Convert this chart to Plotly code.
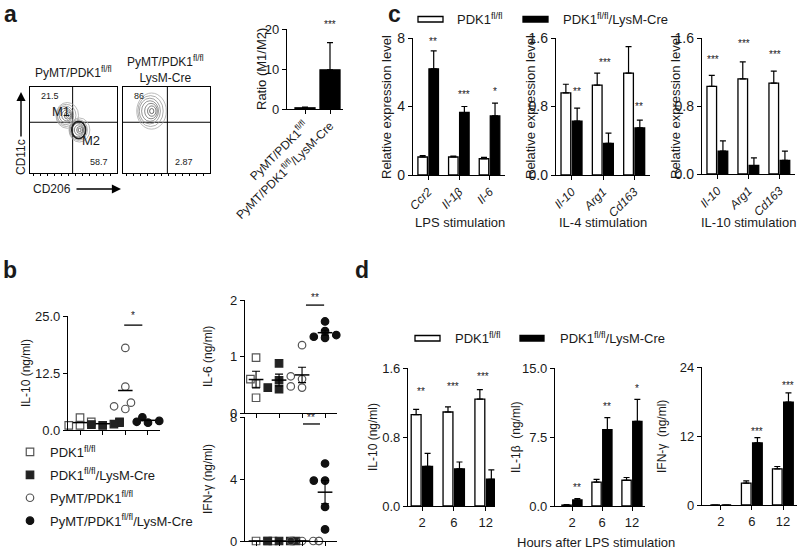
import numpy as np
import plotly.graph_objects as go

W, H = 800, 551
FONT = "Arial, 'Liberation Sans', sans-serif"
INK = "#1a1a1a"

# ====================== DATA ======================
# (a) flow cytometry quadrant percentages
flow_titles = ["PyMT/PDK1<sup>fl/fl</sup>", "PyMT/PDK1<sup>fl/fl</sup><br>LysM-Cre"]
flow_upper_left = ["21.5", "86"]
flow_lower_right = ["58.7", "2.87"]

# (a) M1/M2 ratio
ratio_groups = ["PyMT/PDK1<sup>fl/fl</sup>", "PyMT/PDK1<sup>fl/fl</sup>/LysM-Cre"]
ratio_mean = [0.3, 9.8]
ratio_err = [0.2, 6.8]
ratio_sig = "***"

# (c) relative expression
legend_names = ["PDK1<sup>fl/fl</sup>", "PDK1<sup>fl/fl</sup>/LysM-Cre"]
c_lps_genes = ["<i>Ccr2</i>", "<i>Il-1β</i>", "<i>Il-6</i>"]
c_lps_wt = [1.05, 1.05, 0.95]
c_lps_wt_err = [0.08, 0.05, 0.08]
c_lps_ko = [6.2, 3.65, 3.45]
c_lps_ko_err = [1.05, 0.35, 0.75]
c_lps_sig = ["**", "***", "*"]

c_il4_genes = ["<i>Il-10</i>", "<i>Arg1</i>", "<i>Cd163</i>"]
c_il4_wt = [0.96, 1.05, 1.19]
c_il4_wt_err = [0.10, 0.14, 0.31]
c_il4_ko = [0.63, 0.37, 0.55]
c_il4_ko_err = [0.15, 0.12, 0.09]
c_il4_sig = ["**", "***", "**"]

c_il10_genes = ["<i>Il-10</i>", "<i>Arg1</i>", "<i>Cd163</i>"]
c_il10_wt = [1.03, 1.12, 1.07]
c_il10_wt_err = [0.13, 0.20, 0.14]
c_il10_ko = [0.27, 0.10, 0.16]
c_il10_ko_err = [0.12, 0.09, 0.11]
c_il10_sig = ["***", "***", "***"]

c_stim = ["LPS stimulation", "IL-4 stimulation", "IL-10 stimulation"]

# (b) serum cytokines, individual mice
b_groups = ["PDK1<sup>fl/fl</sup>", "PDK1<sup>fl/fl</sup>/LysM-Cre",
            "PyMT/PDK1<sup>fl/fl</sup>", "PyMT/PDK1<sup>fl/fl</sup>/LysM-Cre"]
b_il10 = [[1.8, 1.0, 2.7, 1.0], [1.2, 1.6, 1.8, 1.3, 1.0],
          [18.0, 9.5, 6.0, 5.2, 4.6], [2.8, 2.4, 2.0, 1.8, 1.6]]
b_il6 = [[0.98, 0.60, 0.52, 0.27], [0.88, 0.58, 0.45, 0.42],
         [1.20, 0.65, 0.60, 0.47, 0.45], [1.62, 1.45, 1.40, 1.35, 1.33, 1.38]]
b_ifn = [[0, 0, 0, 0], [0, 0, 0, 0], [0, 0, 0, 0, 0], [5.0, 3.9, 3.9, 2.2, 0.75]]
b_sig = ["*", "**", "**"]

# (d) time course after LPS
d_hours = ["2", "6", "12"]
d_il10_wt = [1.06, 1.09, 1.24]
d_il10_wt_err = [0.06, 0.06, 0.11]
d_il10_ko = [0.46, 0.43, 0.31]
d_il10_ko_err = [0.15, 0.08, 0.11]
d_il10_sig = ["**", "***", "***"]

d_il1b_wt = [0.10, 2.6, 2.8]
d_il1b_wt_err = [0.05, 0.3, 0.3]
d_il1b_ko = [0.65, 8.3, 9.2]
d_il1b_ko_err = [0.15, 1.3, 2.4]
d_il1b_sig = ["**", "**", "*"]

d_ifn_wt = [0, 3.8, 6.3]
d_ifn_wt_err = [0, 0.4, 0.4]
d_ifn_ko = [0, 10.8, 17.9]
d_ifn_ko_err = [0, 0.9, 1.6]
d_ifn_sig = ["", "***", "***"]

# ====================== LAYOUT GEOMETRY ======================
# pixel boxes: (x0, x1), (ytop, ybottom)
GEOM = {
    1: ((30, 117), (87, 173)),
    2: ((123, 210), (87, 173)),
    3: ((287, 343), (29, 109)),
    4: ((413, 505), (38, 175)),
    5: ((556, 650), (38, 175)),
    6: ((702, 795), (38, 174)),
    7: ((68, 160), (316, 430)),
    8: ((245, 337), (300, 413)),
    9: ((245, 337), (417, 541)),
    10: ((408, 495), (368, 506)),
    11: ((555, 645), (368, 506)),
    12: ((702, 797), (367, 505)),
}


def PX(x):
    return x / W


def PY(y):
    return 1 - y / H


fig = go.Figure()
layout = {}
annotations = []
shapes = []


def sfx(i):
    return "" if i == 1 else str(i)


def add_axes(i, xr, yr, yticks=None, yfmt=None, xticks=None, xtext=None,
             xangle=0, xfont=13, yfont=13, mirror=False, show_ticks=True):
    (x0, x1), (yt, yb) = GEOM[i]
    s = sfx(i)
    base = dict(showgrid=False, zeroline=False, showline=True, linecolor="black",
                linewidth=1.3, tickcolor="black", tickwidth=1.2, ticklen=4,
                ticks="outside" if show_ticks else "", fixedrange=True, automargin=False)
    xa = dict(base, domain=[PX(x0), PX(x1)], range=xr, anchor="y" + s,
              tickfont=dict(size=xfont, color=INK, family=FONT), mirror=mirror)
    if xticks is not None:
        xa.update(tickmode="array", tickvals=xticks,
                  ticktext=xtext if xtext is not None else [""] * len(xticks),
                  tickangle=xangle, showticklabels=xtext is not None)
    else:
        xa.update(showticklabels=False)
    ya = dict(base, domain=[PY(yb), PY(yt)], range=yr, anchor="x" + s,
              tickfont=dict(size=yfont, color=INK, family=FONT), mirror=mirror)
    if yticks is not None:
        ya.update(tickmode="array", tickvals=yticks)
        if yfmt:
            ya.update(tickformat=yfmt)
    else:
        ya.update(showticklabels=False)
    layout["xaxis" + s] = xa
    layout["yaxis" + s] = ya


def text(x, y, t, size=12, angle=0, xanchor="center", yanchor="middle",
         bold=False, ref=("paper", "paper"), yshift=0):
    if bold:
        t = "<b>" + t + "</b>"
    annotations.append(dict(x=x, y=y, xref=ref[0], yref=ref[1], text=t, showarrow=False,
                            textangle=angle, xanchor=xanchor, yanchor=yanchor, yshift=yshift,
                            font=dict(size=size, color=INK, family=FONT)))


def star(i, x, y, t, top, ppu):
    s = sfx(i)
    if y > top:
        text(x, top, t, size=10, ref=("x" + s, "y" + s), yshift=(y - top) * ppu)
    else:
        text(x, y, t, size=10, ref=("x" + s, "y" + s))


def ppu(i, yr):
    (_, _), (yt, yb) = GEOM[i]
    return (yb - yt) / (yr[1] - yr[0])


def bars(i, cats, wt, wt_err, ko, ko_err, width=0.31, off_w=-0.34, off_k=0.02):
    s = sfx(i)
    xs = list(range(len(cats)))
    for vals, errs, col, off in [(wt, wt_err, "white", off_w), (ko, ko_err, "black", off_k)]:
        fig.add_trace(go.Bar(
            x=xs, y=vals, xaxis="x" + s, yaxis="y" + s, width=width, offset=off,
            marker=dict(color=col, line=dict(color="black", width=1.3)),
            error_y=dict(type="data", array=errs, arrayminus=[0] * len(errs), symmetric=False,
                         color="black", thickness=1.2, width=3),
            showlegend=False, hoverinfo="skip"))


# ====================== PANEL a ======================
for i in (1, 2):
    add_axes(i, [0, 1], [0, 1], xticks=list(np.arange(0.04, 1.0, 0.08)), mirror=True)
    layout["yaxis" + sfx(i)].update(ticks="")
    layout["xaxis" + sfx(i)].update(ticklen=2, mirror=True)

# quadrant gates
gates = {1: (0.49, 0.59), 2: (0.51, 0.59)}
for i, (gx, gy) in gates.items():
    s = sfx(i)
    shapes.append(dict(type="line", xref="x" + s, yref="y" + s, x0=gx, x1=gx, y0=0, y1=1,
                       line=dict(color="black", width=1)))
    shapes.append(dict(type="line", xref="x" + s, yref="y" + s, x0=0, x1=1, y0=gy, y1=gy,
                       line=dict(color="black", width=1)))


def blob(i, cx, cy, rx, ry, n=7, dark_ring=None):
    s = sfx(i)
    for k in range(n, 0, -1):
        f = k / n
        g = int(60 + 110 * f)
        shapes.append(dict(type="circle", xref="x" + s, yref="y" + s,
                           x0=cx - rx * f + 0.012 * np.sin(k), x1=cx + rx * f + 0.012 * np.sin(k),
                           y0=cy - ry * f, y1=cy + ry * f,
                           line=dict(color=f"rgb({g},{g},{g})", width=0.8)))
    if dark_ring:
        shapes.append(dict(type="circle", xref="x" + s, yref="y" + s,
                           x0=cx - dark_ring[0], x1=cx + dark_ring[0],
                           y0=cy - dark_ring[1], y1=cy + dark_ring[1],
                           line=dict(color="#222", width=1.6)))


blob(1, 0.42, 0.67, 0.13, 0.15)
blob(1, 0.56, 0.50, 0.12, 0.14, dark_ring=(0.08, 0.1))
blob(2, 0.32, 0.72, 0.17, 0.21)

text(PX(73), PY(72), flow_titles[0], size=12)
text(PX(165), PY(69), flow_titles[1], size=12)
for i, (ul, lr) in enumerate(zip(flow_upper_left, flow_lower_right), start=1):
    s = sfx(i)
    text(0.1, 0.9, ul, size=9, ref=("x" + s, "y" + s), xanchor="left")
    text(0.92 if i == 1 else 0.7, 0.13, lr, size=9, ref=("x" + s, "y" + s),
         xanchor="right" if i == 1 else "center")
text(0.36, 0.71, "M1", size=13, ref=("x", "y"))
text(0.7, 0.38, "M2", size=13, ref=("x", "y"))

text(PX(21), PY(157), "CD11c", size=12, angle=-90)
annotations.append(dict(x=PX(21), y=PY(92), xref="paper", yref="paper", text="", showarrow=True,
                        ax=0, ay=46, arrowhead=2, arrowsize=1.3, arrowwidth=1.4, arrowcolor="black"))
text(PX(52), PY(189), "CD206", size=12)
annotations.append(dict(x=PX(121), y=PY(189), xref="paper", yref="paper", text="", showarrow=True,
                        ax=-46, ay=0, arrowhead=2, arrowsize=1.3, arrowwidth=1.4, arrowcolor="black"))

# ratio bar chart
r_yr = [0, 20]
add_axes(3, [-0.72, 1.52], r_yr, yticks=[0, 10, 20], xticks=[0, 1], xtext=ratio_groups,
         xangle=-45, xfont=12, yfont=13)
fig.add_trace(go.Bar(x=[0, 1], y=ratio_mean, xaxis="x3", yaxis="y3", width=0.8,
                     marker=dict(color=["white", "black"], line=dict(color="black", width=1.3)),
                     error_y=dict(type="data", array=ratio_err, arrayminus=[0, 0], symmetric=False,
                                  color="black", thickness=1.2, width=3),
                     showlegend=False, hoverinfo="skip"))
star(3, 1, 21, ratio_sig, 20, ppu(3, r_yr))
text(PX(261), PY(69), "Ratio (M1/M2)", size=13, angle=-90)

# ====================== PANEL c ======================
c_sets = [
    (4, [0, 8], [0, 4, 8], None, c_lps_genes, c_lps_wt, c_lps_wt_err, c_lps_ko, c_lps_ko_err,
     c_lps_sig, [(0.16, 7.8), (1.16, 4.7), (2.16, 4.9)], 386, c_stim[0], 460),
    (5, [0, 1.6], [0, 0.8, 1.6], ".1f", c_il4_genes, c_il4_wt, c_il4_wt_err, c_il4_ko, c_il4_ko_err,
     c_il4_sig, [(0.18, 0.98), (1.06, 1.31), (2.16, 0.80)], 530, c_stim[1], 603),
    (6, [0, 1.6], [0, 0.8, 1.6], ".1f", c_il10_genes, c_il10_wt, c_il10_wt_err, c_il10_ko, c_il10_ko_err,
     c_il10_sig, [(-0.16, 1.35), (0.84, 1.53), (1.84, 1.41)], 675, c_stim[2], 748),
]
for (i, yr, yt, fmt, genes, wt, wte, ko, koe, sig, sigpos, ytx, stim, stx) in c_sets:
    add_axes(i, [-0.5, 2.5], yr, yticks=yt, yfmt=fmt, xticks=[0, 1, 2], xtext=genes,
             xangle=-45, xfont=12, yfont=14)
    bars(i, genes, wt, wte, ko, koe)
    for t, (sx, sy) in zip(sig, sigpos):
        star(i, sx, sy, t, yr[1], ppu(i, yr))
    text(PX(ytx), PY(107), "Relative expression level", size=13, angle=-90)
    text(PX(stx), PY(222), stim, size=13)

# legend c
legend_boxes_c = [(418, 443, "white"), (523, 548, "black")]
legend_text_c = [455, 561]
for (x0, x1, col), tx, name in zip(legend_boxes_c, legend_text_c, legend_names):
    shapes.append(dict(type="rect", xref="paper", yref="paper", x0=PX(x0), x1=PX(x1),
                       y0=PY(22), y1=PY(16.5), fillcolor=col, line=dict(color="black", width=1.3)))
    text(PX(tx), PY(19), name, size=13, xanchor="left")

# ====================== PANEL b ======================
b_sets = [(7, [0, 25], [0, 12.5, 25], ".1f", b_il10, False, "IL-10 (ng/ml)", 26, 373),
          (8, [0, 2], [0, 1, 2], None, b_il6, True, "IL-6 (ng/ml)", 208, 357),
          (9, [0, 8], [0, 4, 8], None, b_ifn, True, "IFN-γ (ng/ml)", 208, 479)]
xr_b = {7: [-0.53, 3.53], 8: [-0.48, 3.52], 9: [-0.48, 3.52]}
b_styles = [dict(symbol="square-open", color="#555"), dict(symbol="square", color="#222"),
            dict(symbol="circle-open", color="#555"), dict(symbol="circle", color="#111")]


def swarm(vals, yppu, xppu, msize=7.5):
    placed = []
    xs = [0.0] * len(vals)
    for idx in np.argsort(vals, kind="stable"):
        y = vals[idx] * yppu
        for k in [0, -1, 1, -2, 2, -3, 3]:
            x = k * msize * 0.75
            if all((x - a) ** 2 + (y - b) ** 2 >= (msize * 0.9) ** 2 for a, b in placed):
                break
        placed.append((x, y))
        xs[idx] = x / xppu
    return xs


for (i, yr, yt, fmt, groups, sem, ytitle, ytx, yty) in b_sets:
    s = sfx(i)
    add_axes(i, xr_b[i], yr, yticks=yt, yfmt=fmt, xticks=[0, 1, 2, 3], yfont=13)
    (x0, x1), _ = GEOM[i]
    xppu = (x1 - x0) / (xr_b[i][1] - xr_b[i][0])
    yppu = ppu(i, yr)
    for g, (vals, st, name) in enumerate(zip(groups, b_styles, b_groups)):
        offs = swarm(vals, yppu, xppu)
        fig.add_trace(go.Scatter(
            x=[g + o for o in offs], y=vals, xaxis="x" + s, yaxis="y" + s, mode="markers",
            marker=dict(symbol=st["symbol"], color=st["color"], size=7.5,
                        line=dict(color=st["color"], width=1.2)),
            name=name, showlegend=(i == 7), legendgroup=f"g{g}", cliponaxis=False,
            hoverinfo="skip"))
        m = float(np.mean(vals))
        fig.add_trace(go.Scatter(x=[g - 0.32, g + 0.32], y=[m, m], xaxis="x" + s, yaxis="y" + s,
                                 mode="lines", line=dict(color="black", width=1.5),
                                 showlegend=False, hoverinfo="skip", cliponaxis=False))
        if sem:
            se = float(np.std(vals, ddof=1) / np.sqrt(len(vals)))
            fig.add_trace(go.Scatter(x=[g], y=[m], xaxis="x" + s, yaxis="y" + s, mode="markers",
                                     marker=dict(size=1, color="rgba(0,0,0,0)"),
                                     error_y=dict(type="data", array=[se], color="black",
                                                  thickness=1.1, width=4),
                                     showlegend=False, hoverinfo="skip"))
    text(PX(ytx), PY(yty), ytitle, size=12, angle=-90)

sig_lines = {7: (1.95, 2.75, 23, 25.2), 8: (2.17, 2.96, 1.91, 2.04), 9: (2.04, 2.78, 7.55, 7.95)}
for (i, (xa, xb, ly, sy)), t in zip(sig_lines.items(), b_sig):
    s = sfx(i)
    shapes.append(dict(type="line", xref="x" + s, yref="y" + s, x0=xa, x1=xb, y0=ly, y1=ly,
                       line=dict(color="black", width=1.3)))
    yr = layout["yaxis" + s]["range"]
    star(i, (xa + xb) / 2, sy, t, yr[1], ppu(i, yr))

# ====================== PANEL d ======================
d_sets = [
    (10, [-0.44, 2.29], [0, 1.6], [0, 0.8, 1.6], ".1f", d_il10_wt, d_il10_wt_err, d_il10_ko, d_il10_ko_err,
     d_il10_sig, [(-0.03, 1.33), (0.97, 1.38), (1.9, 1.5)], "IL-10 (ng/ml)", 373),
    (11, [-0.57, 2.43], [0, 15], [0, 7.5, 15], ".1f", d_il1b_wt, d_il1b_wt_err, d_il1b_ko, d_il1b_ko_err,
     d_il1b_sig, [(0.15, 2.0), (1.17, 10.8), (2.15, 12.8)], "IL-1β  (ng/ml)", 516),
    (12, [-0.61, 2.45], [0, 24], [0, 12, 24], None, d_ifn_wt, d_ifn_wt_err, d_ifn_ko, d_ifn_ko_err,
     d_ifn_sig, [(0.17, 1), (1.17, 12.7), (2.17, 20.7)], "IFN-γ  (ng/ml)", 662),
]
for (i, xr, yr, yt, fmt, wt, wte, ko, koe, sig, sigpos, ytitle, ytx) in d_sets:
    add_axes(i, xr, yr, yticks=yt, yfmt=fmt, xticks=[0, 1, 2], xtext=d_hours, xfont=13, yfont=13)
    bars(i, d_hours, wt, wte, ko, koe)
    for t, (sx, sy) in zip(sig, sigpos):
        if t:
            star(i, sx, sy, t, yr[1], ppu(i, yr))
    text(PX(ytx), PY(437), ytitle, size=12, angle=-90)
text(PX(596), PY(542), "Hours after LPS stimulation", size=13)

legend_boxes_d = [(415, 440, "white"), (520, 544, "black")]
legend_text_d = [453, 558]
for (x0, x1, col), tx, name in zip(legend_boxes_d, legend_text_d, legend_names):
    shapes.append(dict(type="rect", xref="paper", yref="paper", x0=PX(x0), x1=PX(x1),
                       y0=PY(341), y1=PY(335.5), fillcolor=col, line=dict(color="black", width=1.3)))
    text(PX(tx), PY(338), name, size=13, xanchor="left")

# panel letters
for (lx, ly, t) in [(10, 14, "a"), (394, 14, "c"), (10, 270, "b"), (362, 270, "d")]:
    text(PX(lx), PY(ly), t, size=23, bold=True)

layout.update(
    template="none",
    width=W, height=H, autosize=False, margin=dict(l=0, r=0, t=0, b=0, pad=0),
    paper_bgcolor="white", plot_bgcolor="white",
    font=dict(family=FONT, color=INK), barmode="overlay",
    annotations=annotations, shapes=shapes,
    legend=dict(x=PX(10), y=PY(437), xanchor="left", yanchor="top", bgcolor="rgba(0,0,0,0)",
                font=dict(size=13, color=INK, family=FONT), tracegroupgap=3, itemwidth=30,
                itemsizing="trace"),
    showlegend=True,
)
fig.update_layout(**layout)
fig.write_html("out.html", config={"displayModeBar": False},
               post_script="document.body.style.margin='0px';document.body.style.overflow='hidden';")
